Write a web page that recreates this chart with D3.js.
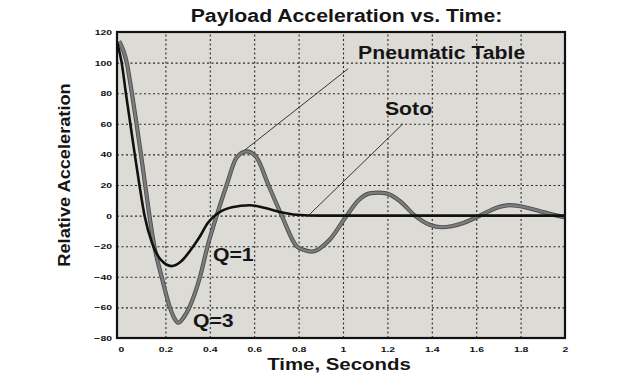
<!DOCTYPE html>
<html lang="en">
<head>
  <meta charset="utf-8" />
  <title>Payload Acceleration vs. Time</title>
  <script src="https://d3js.org/d3.v7.min.js"></script>
  <style>
    html, body {
      margin: 0;
      padding: 0;
      background: #fff;
      overflow: hidden;
      font-family: "Liberation Sans", Arial, sans-serif;
    }
    .grid line {
      stroke: #2a2a2a;
      stroke-width: 1.1px;
      stroke-dasharray: 2, 2.5;
    }
    .grid .domain { display: none; }
    .tick-label text {
      font-size: 8px;
      font-weight: bold;
      fill: #111;
    }
  </style>
</head>
<body>
<script>
/* Data: time (s) and relative acceleration */
const pneumaticT = [-0.008, 0.026, 0.048, 0.068, 0.088, 0.108, 0.128, 0.15, 0.183, 0.218, 0.24, 0.258, 0.28,
  0.311, 0.356, 0.39, 0.431, 0.476, 0.521, 0.566, 0.611, 0.664, 0.724, 0.791, 0.825, 0.859, 0.941, 1.017,
  1.07, 1.12, 1.16, 1.195, 1.257, 1.324, 1.39, 1.445, 1.542, 1.617, 1.69, 1.752, 1.82, 1.887, 1.95, 2.0];
const pneumaticV = [114, 100, 81, 62, 42, 21, 0, -20, -40, -59, -67, -70, -67,
  -59, -40, -20, 0, 20, 38, 42, 38, 20, 0, -20, -22.5, -23.5, -15.6, 0,
  10, 14.5, 15, 14.5, 9.4, 0, -6, -7.6, -4.8, 0, 5, 6.8, 5.5, 2.9, 0.5, -1];

const sotoT = [-0.017, 0.003, 0.022, 0.042, 0.062, 0.083, 0.106, 0.14, 0.18, 0.228, 0.27, 0.326, 0.356,
  0.39, 0.423, 0.5, 0.581, 0.65, 0.716, 0.79, 0.9, 1.2, 1.6, 2.0];
const sotoV = [113, 100, 80, 60, 40, 20, 0, -18, -29, -33, -30, -20, -13.5,
  -5, 0, 5.5, 6.8, 5, 2.4, 0.6, 0, 0, 0, 0];

const xTicks = [0, 0.2, 0.4, 0.6, 0.8, 1, 1.2, 1.4, 1.6, 1.8, 2];
const yTicks = [-80, -60, -40, -20, 0, 20, 40, 60, 80, 100, 120];

// callouts: [label, x, y] and leader lines [x1, y1, x2, y2] in data units
const labels = [
  ["Pneumatic Table", 1.068, 102.4],
  ["Soto", 1.189, 65.9],
  ["Q=1", 0.414, -29.4],
  ["Q=3", 0.324, -72.6]
];
const leaders = [
  [0.559, 43, 1.023, 96],
  [0.851, 1, 1.27, 60]
];

const width = 644, height = 389;
const plotL = 117, plotR = 565, plotT = 32, plotB = 338;

const svg = d3.select("body").append("svg")
  .attr("width", width)
  .attr("height", height);

const x = d3.scaleLinear().domain([-0.018, 2]).range([plotL, plotR]);
const y = d3.scaleLinear().domain([-80, 120]).range([plotB, plotT]);

// stretch text horizontally like the source (it was scaled wider)
function stretch(sel, k) {
  const w = sel.node().getComputedTextLength();
  sel.attr("textLength", w * k).attr("lengthAdjust", "spacingAndGlyphs");
  return sel;
}

// plot background
svg.append("rect")
  .attr("x", plotL).attr("y", plotT)
  .attr("width", plotR - plotL).attr("height", plotB - plotT)
  .attr("fill", "#dcdbd6");

// grid
svg.append("g").attr("class", "grid")
  .attr("transform", `translate(0,${plotB})`)
  .call(d3.axisBottom(x).tickValues(xTicks.slice(1, -1)).tickSize(-(plotB - plotT)).tickFormat(""));
svg.append("g").attr("class", "grid")
  .attr("transform", `translate(${plotL},0)`)
  .call(d3.axisLeft(y).tickValues(yTicks.slice(1, -1)).tickSize(-(plotR - plotL)).tickFormat(""));

// tick labels
const xl = svg.append("g").attr("class", "tick-label")
  .attr("transform", `translate(0,${plotB})`)
  .call(d3.axisBottom(x).tickValues(xTicks).tickSize(0).tickPadding(8).tickFormat(d3.format("~g")));
xl.select(".domain").remove();
xl.selectAll("text").each(function () { stretch(d3.select(this), 1.3); });

const yl = svg.append("g").attr("class", "tick-label")
  .attr("transform", `translate(${plotL},0)`)
  .call(d3.axisLeft(y).tickValues(yTicks).tickSize(0).tickPadding(5));
yl.select(".domain").remove();
yl.selectAll("text").each(function () { stretch(d3.select(this), 1.3); });

// curves
svg.append("clipPath").attr("id", "clip")
  .append("rect").attr("x", plotL).attr("y", plotT)
  .attr("width", plotR - plotL).attr("height", plotB - plotT);

const line = d3.line()
  .x(d => x(d[0]))
  .y(d => y(d[1]))
  .curve(d3.curveMonotoneX);

const pneumatic = pneumaticT.map((t, i) => [t, pneumaticV[i]]);
const soto = sotoT.map((t, i) => [t, sotoV[i]]);

const curves = svg.append("g").attr("clip-path", "url(#clip)");
curves.append("path").datum(pneumatic)
  .attr("d", line).attr("fill", "none")
  .attr("stroke", "#4e4e4e").attr("stroke-width", 4.2);
curves.append("path").datum(pneumatic)
  .attr("d", line).attr("fill", "none")
  .attr("stroke", "#7c7c7c").attr("stroke-width", 2.4);
curves.append("path").datum(soto)
  .attr("d", line).attr("fill", "none")
  .attr("stroke", "#111").attr("stroke-width", 2.6);

// leader lines
svg.selectAll(".leader").data(leaders).enter().append("line")
  .attr("x1", d => x(d[0])).attr("y1", d => y(d[1]))
  .attr("x2", d => x(d[2])).attr("y2", d => y(d[3]))
  .attr("stroke", "#222").attr("stroke-width", 0.9);

// callout labels
labels.forEach(d => {
  const t = svg.append("text")
    .attr("x", x(d[1])).attr("y", y(d[2]))
    .attr("font-size", 18).attr("font-weight", "bold")
    .attr("fill", "#151515")
    .text(d[0]);
  stretch(t, 1.18);
});

// frame
svg.append("rect")
  .attr("x", plotL).attr("y", plotT)
  .attr("width", plotR - plotL).attr("height", plotB - plotT)
  .attr("fill", "none").attr("stroke", "#111").attr("stroke-width", 2.2);

// titles
stretch(svg.append("text")
  .attr("x", 346.5).attr("y", 21.7)
  .attr("text-anchor", "middle")
  .attr("font-size", 18).attr("font-weight", "bold").attr("fill", "#151515")
  .text("Payload Acceleration vs. Time:"), 1.18);

stretch(svg.append("text")
  .attr("x", 339).attr("y", 370)
  .attr("text-anchor", "middle")
  .attr("font-size", 17).attr("font-weight", "bold").attr("fill", "#151515")
  .text("Time, Seconds"), 1.2);

stretch(svg.append("text")
  .attr("transform", "translate(69.5,175) rotate(-90)")
  .attr("text-anchor", "middle")
  .attr("font-size", 17).attr("font-weight", "bold").attr("fill", "#151515")
  .text("Relative Acceleration"), 1.07);
</script>
</body>
</html>
